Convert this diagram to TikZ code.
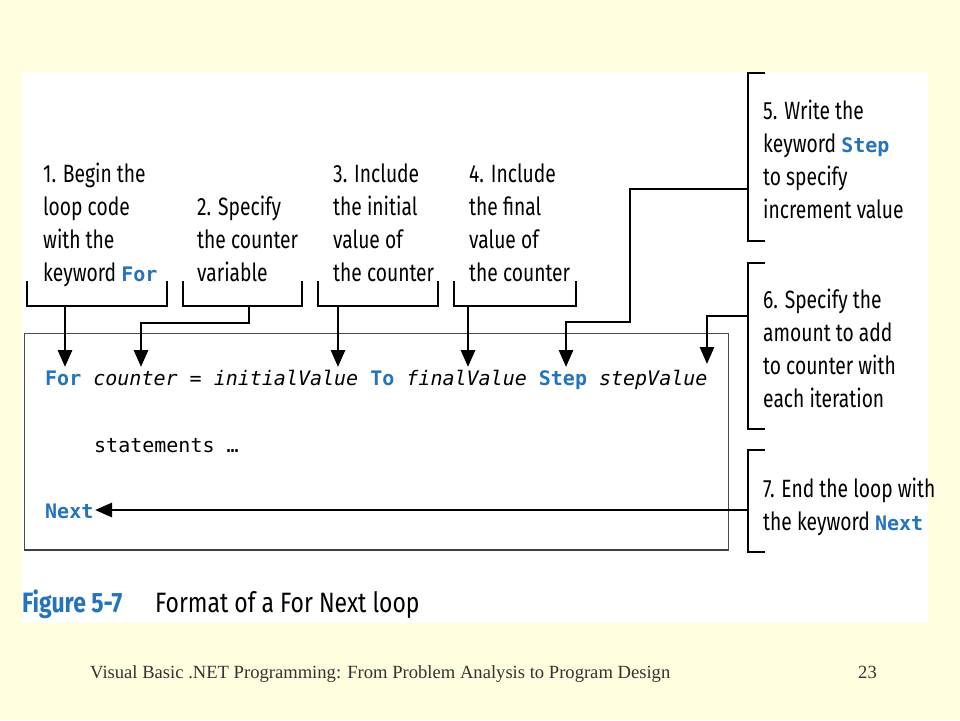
\documentclass[tikz,border=0pt]{standalone}
\usepackage{fontspec}
\setmainfont{Liberation Serif}
\setmonofont{DejaVu Sans Mono}
\newfontfamily\calloutfont[FakeStretch=0.77]{Fira Sans}
\newfontfamily\captionfont[FakeStretch=0.82]{Fira Sans}
\usepackage{xcolor}
\usepackage{tikz}
\usetikzlibrary{arrows.meta,positioning}

\definecolor{pagebg}{RGB}{255,255,224}
\definecolor{kwblue}{RGB}{35,115,190}
\newcommand{\kw}[1]{\textcolor{kwblue}{\ttfamily\bfseries #1}}
\newcommand{\kwl}[1]{\textcolor{kwblue}{\fontsize{20}{33}\ttfamily\bfseries #1}}

\tikzset{
  callout/.style={anchor=base west,align=left,inner sep=0pt,font=\calloutfont\fontsize{25}{33}\selectfont},
  codeline/.style={anchor=base west,inner sep=0pt,font=\fontsize{20}{24}\ttfamily},
  caption/.style={anchor=base west,inner sep=0pt,font=\captionfont\fontsize{28}{34}\selectfont},
  footline/.style={anchor=base west,inner sep=0pt,font=\fontsize{18.6}{22}\selectfont,text=black!80},
  bracket/.style={line width=2.8pt,line cap=rect},
  pointer/.style={line width=2.8pt,-{Triangle[length=17pt,width=14pt]}},
}

\begin{document}
\begin{tikzpicture}[x=1pt,y=-1pt]
% page and figure panel
\fill[pagebg] (0,0) rectangle (960,720);
\fill[white] (22,72) rectangle (928,623);
% code box
\draw[black!70,line width=1pt] (24,333) rectangle (728,550);
\draw[black!75,line width=2.5pt] (24,550) -- (728,550);
% code
\node[codeline] (forline) at (45,385) {\kw{For} \textit{counter = initialValue} \kw{To} \textit{finalValue} \kw{Step} \textit{stepValue}};
\node[codeline] (stmts) at (94,452) {statements \dots};
\node[codeline] (nextkw) at (45,518) {\kw{Next}};
% callouts above the code (placed by their last line)
\node[callout] (begin) at (43,281) {1. Begin the\\loop code\\with the\\keyword \kwl{For}};
\node[callout] (counter) at (197,281) {2. Specify\\the counter\\variable};
\node[callout] (initial) at (333,281) {3. Include\\the initial\\value of\\the counter};
\node[callout] (final) at (469,281) {4. Include\\the final\\value of\\the counter};
% callouts to the right
\node[callout] (stepkw) at (763,218) {5. Write the\\keyword \kwl{Step}\\to specify\\increment value};
\node[callout] (amount) at (763,407) {6. Specify the\\amount to add\\to counter with\\each iteration};
\node[callout] (endloop) at (763,530) {7. End the loop with\\the keyword \kwl{Next}};
% brackets
\draw[bracket] (27,282) |- (167,306) -- (167,282);
\draw[bracket] (183,282) |- (302,306) -- (302,282);
\draw[bracket] (318,282) |- (438,306) -- (438,282);
\draw[bracket] (454,282) |- (576,306) -- (576,282);
\draw[bracket] (764,73) -| (748,241) -- (764,241);
\draw[bracket] (764,263) -| (748,429) -- (764,429);
\draw[bracket] (764,450) -| (748,552) -- (764,552);
% bracket feet and arrow targets
\coordinate (b1) at (65,306);   \coordinate (t1) at (65,367);
\coordinate (b2) at (249,306);  \coordinate (t2) at (141,367);
\coordinate (b3) at (338,306);  \coordinate (t3) at (338,367);
\coordinate (b4) at (468,306);  \coordinate (t4) at (468,367);
\coordinate (b5) at (748,189);  \coordinate (t5) at (566,367);
\coordinate (b6) at (748,316);  \coordinate (t6) at (707,364);
\coordinate (b7) at (748,510);  \coordinate (t7) at (95,510);
% arrows
\draw[pointer] (b1) -- (t1);
\draw[pointer] (b2) -- (249,323) -| (t2);
\draw[pointer] (b3) -- (t3);
\draw[pointer] (b4) -- (t4);
\draw[pointer] (b5) -- (630,189) -- (630,322) -| (t5);
\draw[pointer] (b6) -| (t6);
\draw[pointer] (b7) -- (t7);
% caption
\node[caption,text=kwblue] (figno) at (22,612) {\bfseries Figure 5-7};
\node[caption] (figtitle) at (155,612) {Format of a For Next loop};
% footer
\node[footline] (footer) at (90,678) {Visual Basic .NET Programming: From Problem Analysis to Program Design};
\node[footline] (pageno) at (858,678) {23};
\end{tikzpicture}
\end{document}
